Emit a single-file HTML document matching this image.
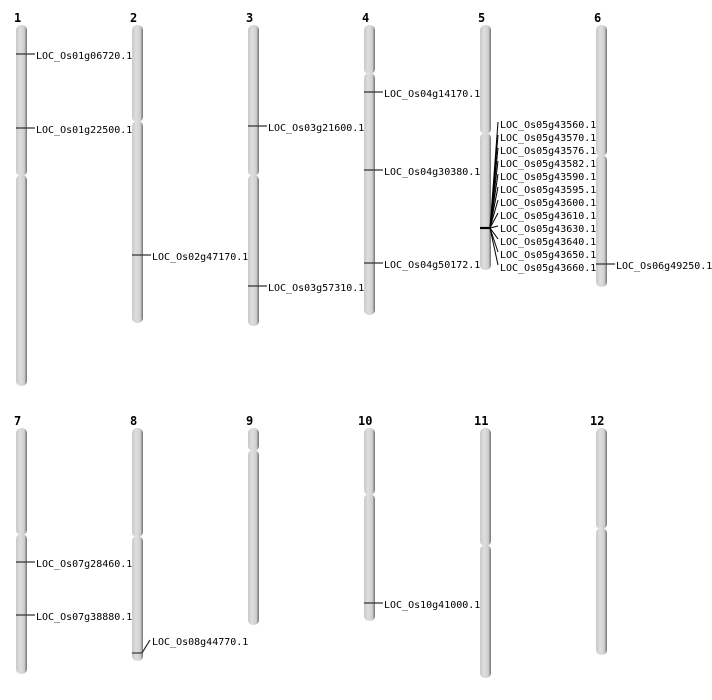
<!DOCTYPE html>
<html><head><meta charset="utf-8"><style>
html,body{margin:0;padding:0;background:#fff;width:712px;height:700px;overflow:hidden}
text{font-family:"DejaVu Sans Mono","Liberation Mono",monospace;font-size:10px;fill:#000}
.n{font-family:"DejaVu Sans Mono","Liberation Mono",monospace;font-weight:bold;font-size:12px}
</style></head><body>
<svg width="712" height="700" xmlns="http://www.w3.org/2000/svg">
<defs>
<linearGradient id="g" x1="0" x2="1" y1="0" y2="0">
<stop offset="0" stop-color="#c8c8c8"/><stop offset="0.35" stop-color="#dedede"/><stop offset="0.75" stop-color="#d0d0d0"/><stop offset="1" stop-color="#707070"/>
</linearGradient>
</defs>
<g fill="url(#g)">
<!-- row 1 -->
<rect x="16" y="25" width="11" height="151" rx="5"/><rect x="16" y="175" width="11" height="211" rx="5"/>
<rect x="132" y="25" width="11" height="97" rx="5"/><rect x="132" y="121" width="11" height="202" rx="5"/>
<rect x="248" y="25" width="11" height="151" rx="5"/><rect x="248" y="175" width="11" height="151" rx="5"/>
<rect x="364" y="25" width="11" height="49" rx="5"/><rect x="364" y="73" width="11" height="242" rx="5"/>
<rect x="480" y="25" width="11" height="109" rx="5"/><rect x="480" y="133" width="11" height="137" rx="5"/>
<rect x="596" y="25" width="11" height="131" rx="5"/><rect x="596" y="155" width="11" height="132" rx="5"/>
<!-- row 2 -->
<rect x="16" y="428" width="11" height="107" rx="5"/><rect x="16" y="534" width="11" height="140" rx="5"/>
<rect x="132" y="428" width="11" height="109" rx="5"/><rect x="132" y="536" width="11" height="125" rx="5"/>
<rect x="248" y="428" width="11" height="23" rx="5"/><rect x="248" y="450" width="11" height="175" rx="5"/>
<rect x="364" y="428" width="11" height="67" rx="5"/><rect x="364" y="494" width="11" height="127" rx="5"/>
<rect x="480" y="428" width="11" height="118" rx="5"/><rect x="480" y="545" width="11" height="133" rx="5"/>
<rect x="596" y="428" width="11" height="101" rx="5"/><rect x="596" y="528" width="11" height="127" rx="5"/>
</g>
<g class="n">
<text class="n" x="14" y="22">1</text><text class="n" x="130" y="22">2</text><text class="n" x="246" y="22">3</text>
<text class="n" x="362" y="22">4</text><text class="n" x="478" y="22">5</text><text class="n" x="594" y="22">6</text>
<text class="n" x="14" y="425">7</text><text class="n" x="130" y="425">8</text><text class="n" x="246" y="425">9</text>
<text class="n" x="358" y="425">10</text><text class="n" x="474" y="425">11</text><text class="n" x="590" y="425">12</text>
</g>
<g stroke="#333" stroke-width="1.2">
<line x1="16" y1="54" x2="35" y2="54"/><line x1="16" y1="128" x2="35" y2="128"/>
<line x1="132" y1="255" x2="151" y2="255"/>
<line x1="248" y1="126" x2="267" y2="126"/><line x1="248" y1="286" x2="267" y2="286"/>
<line x1="364" y1="92" x2="383" y2="92"/><line x1="364" y1="170" x2="383" y2="170"/><line x1="364" y1="263" x2="383" y2="263"/>
<line x1="596" y1="264" x2="615" y2="264"/>
<line x1="16" y1="562" x2="35" y2="562"/><line x1="16" y1="615" x2="35" y2="615"/>
<line x1="132" y1="653" x2="142" y2="653"/><line x1="142" y1="653" x2="150" y2="640"/>
<line x1="364" y1="603" x2="383" y2="603"/>
<line x1="480" y1="228" x2="490" y2="228" stroke-width="2.2" stroke="#000"/>
</g>
<g stroke="#000" stroke-width="1">
<line x1="490" y1="228" x2="498" y2="122"/><line x1="490" y1="228" x2="498" y2="135"/>
<line x1="490" y1="228" x2="498" y2="148"/><line x1="490" y1="228" x2="498" y2="161"/>
<line x1="490" y1="228" x2="498" y2="174"/><line x1="490" y1="228" x2="498" y2="187"/>
<line x1="490" y1="228" x2="498" y2="200"/><line x1="490" y1="228" x2="498" y2="213"/>
<line x1="490" y1="228" x2="498" y2="226"/><line x1="490" y1="228" x2="498" y2="239"/>
<line x1="490" y1="228" x2="498" y2="252"/><line x1="490" y1="228" x2="498" y2="265"/>
</g>
<text x="36" y="59">LOC_Os01g06720.1</text>
<text x="36" y="133">LOC_Os01g22500.1</text>
<text x="152" y="260">LOC_Os02g47170.1</text>
<text x="268" y="131">LOC_Os03g21600.1</text>
<text x="268" y="291">LOC_Os03g57310.1</text>
<text x="384" y="97">LOC_Os04g14170.1</text>
<text x="384" y="175">LOC_Os04g30380.1</text>
<text x="384" y="268">LOC_Os04g50172.1</text>
<text x="500" y="128">LOC_Os05g43560.1</text>
<text x="500" y="141">LOC_Os05g43570.1</text>
<text x="500" y="154">LOC_Os05g43576.1</text>
<text x="500" y="167">LOC_Os05g43582.1</text>
<text x="500" y="180">LOC_Os05g43590.1</text>
<text x="500" y="193">LOC_Os05g43595.1</text>
<text x="500" y="206">LOC_Os05g43600.1</text>
<text x="500" y="219">LOC_Os05g43610.1</text>
<text x="500" y="232">LOC_Os05g43630.1</text>
<text x="500" y="245">LOC_Os05g43640.1</text>
<text x="500" y="258">LOC_Os05g43650.1</text>
<text x="500" y="271">LOC_Os05g43660.1</text>
<text x="616" y="269">LOC_Os06g49250.1</text>
<text x="36" y="567">LOC_Os07g28460.1</text>
<text x="36" y="620">LOC_Os07g38880.1</text>
<text x="152" y="645">LOC_Os08g44770.1</text>
<text x="384" y="608">LOC_Os10g41000.1</text>
</svg>
</body></html>
